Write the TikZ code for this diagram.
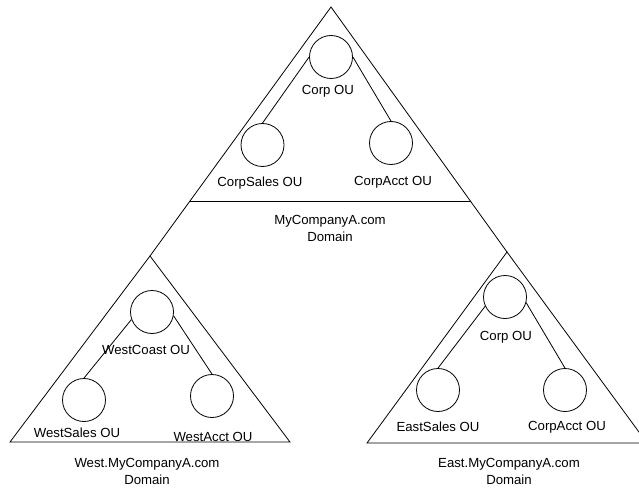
\documentclass[tikz,border=0pt]{standalone}
\usepackage{fontspec}
\setmainfont{Liberation Sans}
\usetikzlibrary{positioning,calc}
\definecolor{Ink}{HTML}{000000}
\definecolor{Paper}{HTML}{FFFFFF}
\tikzset{
  ou/.style={draw=Ink,circle,minimum size=43pt,inner sep=0pt,line width=0.8pt},
  oulabel/.style={font=\fontsize{13.2}{15}\selectfont,text=Ink,inner sep=1pt},
  domlabel/.style={font=\fontsize{13.2}{17}\selectfont,text=Ink,align=center,inner sep=1pt},
  edge/.style={draw=Ink,line width=0.8pt},
  tri/.style={draw=Ink,line width=0.8pt,line join=miter}
}
\begin{document}
\begin{tikzpicture}[x=1pt,y=-1pt]
  \useasboundingbox[fill=Paper] (0,0) rectangle (639,489);
  % domain triangles
  \coordinate (apex) at (331,7);
  \coordinate (wapex) at (150,256);
  \coordinate (eapex) at (507,252);
  \coordinate (baseL) at (189.5,201);
  \coordinate (baseR) at (470.5,201);
  \draw[tri] (wapex) -- (apex) -- (eapex);
  \draw[tri] (baseL) -- (baseR);
  \draw[tri] (wapex) -- (10,442) -- (290,442) -- cycle;
  \draw[tri] (eapex) -- (367,443) -- (647,443) -- cycle;
  % MyCompanyA.com
  \node[ou] (corp) at (331,57) {};
  \node[ou] (corpsales) at (262.5,145) {};
  \node[ou] (corpacct) at (391,143) {};
  \node[oulabel] (corplbl) at (328,91) {Corp OU};
  \node[oulabel] (corpsaleslbl) at (260,183) {CorpSales OU};
  \node[oulabel] (corpacctlbl) at (393,182) {CorpAcct OU};
  \node[domlabel] (topdom) at (330,228.5) {MyCompanyA.com\\Domain};
  \draw[edge] (corp.west) -- (corpsales.north);
  \draw[edge] (corp.east) -- (corpacct.north);
  % West.MyCompanyA.com
  \node[ou] (westcoast) at (152,312) {};
  \node[ou] (westsales) at (84,400) {};
  \node[ou] (westacct) at (212,396) {};
  \node[oulabel] (westcoastlbl) at (146,350) {WestCoast OU};
  \node[oulabel] (westsaleslbl) at (77,433) {WestSales OU};
  \node[oulabel] (westacctlbl) at (213,437) {WestAcct OU};
  \node[domlabel] (westdom) at (147,471.5) {West.MyCompanyA.com\\Domain};
  \draw[edge] (westcoast.200) -- (westsales.north);
  \draw[edge] (westcoast.-10) -- (westacct.north);
  % East.MyCompanyA.com
  \node[ou] (eastcorp) at (505,297) {};
  \node[ou] (eastsales) at (438,390) {};
  \node[ou] (eastacct) at (565,390) {};
  \node[oulabel] (eastcorplbl) at (506,337) {Corp OU};
  \node[oulabel] (eastsaleslbl) at (438,427) {EastSales OU};
  \node[oulabel] (eastacctlbl) at (567,427) {CorpAcct OU};
  \node[domlabel] (eastdom) at (509,471.5) {East.MyCompanyA.com\\Domain};
  \draw[edge] (eastcorp.205) -- (eastsales.north);
  \draw[edge] (eastcorp.-15) -- (eastacct.north);
\end{tikzpicture}
\end{document}
